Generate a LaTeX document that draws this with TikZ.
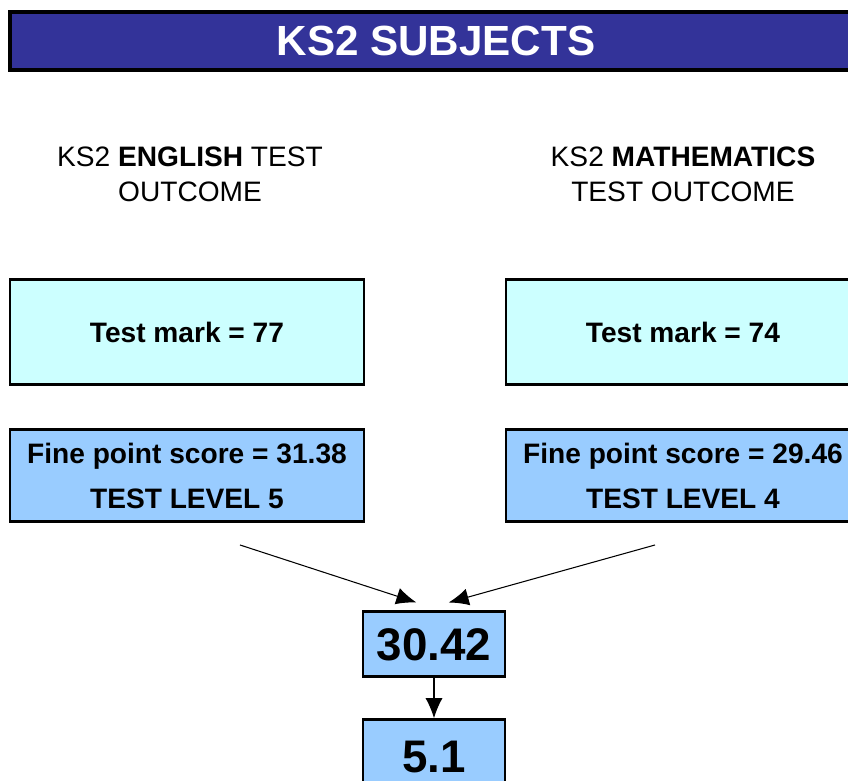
\documentclass[tikz,border=0pt]{standalone}
\usepackage{fontspec}
\setmainfont{Liberation Sans}
\usetikzlibrary{arrows.meta, positioning}
\definecolor{titleblue}{HTML}{333399}
\definecolor{markcyan}{HTML}{CCFFFF}
\definecolor{scoreblue}{HTML}{99CCFF}

\begin{document}
\begin{tikzpicture}[
            > = {Latex[length=4mm, width=3.4mm]}, % arrow head style
            shorten > = 1pt, % don't touch arrow head to node
            semithick % line style
        ]

        \tikzstyle{every node}=[inner sep=0pt, outer sep=0pt]
        \tikzstyle{titlebar}=[
            draw = black,
            line width = 2.2pt,
            fill = titleblue,
            text = white,
            font = \fontsize{24}{28}\selectfont\bfseries,
            minimum width = 17.04cm,
            minimum height = 1.16cm
        ]
        \tikzstyle{heading}=[
            align = center,
            font = \fontsize{16}{19.8}\selectfont
        ]
        \tikzstyle{markbox}=[
            draw = black,
            line width = 1.7pt,
            fill = markcyan,
            font = \fontsize{16}{19}\selectfont\bfseries,
            minimum width = 7.08cm,
            minimum height = 2.1cm
        ]
        \tikzstyle{scorebox}=[
            draw = black,
            line width = 1.7pt,
            fill = scoreblue,
            align = center,
            font = \fontsize{16}{25.5}\selectfont\bfseries,
            minimum width = 7.08cm,
            minimum height = 1.84cm
        ]
        \tikzstyle{resultbox}=[
            draw = black,
            line width = 1.7pt,
            fill = scoreblue,
            font = \fontsize{26}{30}\selectfont\bfseries,
            minimum width = 2.84cm
        ]

        \clip (0,0) rectangle (16.96,15.62);

        \node[titlebar] (title) at (8.72,14.8) {KS2 SUBJECTS};

        \node[heading] (enghead) at (3.8,12.13) {KS2 \textbf{ENGLISH} TEST\\OUTCOME};
        \node[heading] (mathhead) at (13.66,12.13) {KS2 \textbf{MATHEMATICS}\\TEST OUTCOME};

        \node[markbox] (engmark) at (3.74,8.97) {Test mark = 77};
        \node[markbox] (mathmark) at (13.66,8.97) {Test mark = 74};

        \node[scorebox] (engscore) at (3.74,6.1) {Fine point score = 31.38\\TEST LEVEL 5};
        \node[scorebox] (mathscore) at (13.66,6.1) {Fine point score = 29.46\\TEST LEVEL 4};

        \node[resultbox, minimum height = 1.3cm] (res) at (8.68,2.73) {30.42};
        \node[resultbox, minimum height = 1.5cm] (fin) at (8.68,0.47) {5.1};

        \coordinate (engtail) at (4.8,4.72);
        \coordinate (mathtail) at (13.1,4.72);

	\path[->] (engtail) edge ([xshift=-0.32cm, yshift=0.18cm]res.north);
	\path[->] (mathtail) edge ([xshift=0.26cm, yshift=0.18cm]res.north);
	\path[->] (res) edge (fin);
    \end{tikzpicture}
\end{document}
